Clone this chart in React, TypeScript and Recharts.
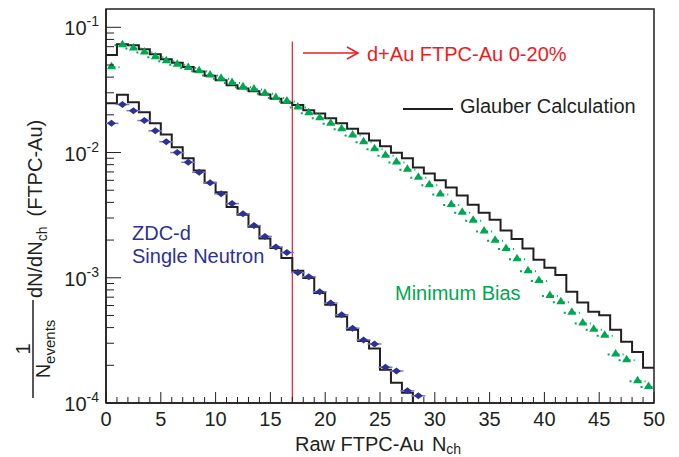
import React from "react";
import {
  ComposedChart,
  Customized,
  Line,
  ReferenceArea,
  ReferenceLine,
  Scatter,
  XAxis,
  YAxis,
} from "recharts";

const FONT = '"Liberation Sans", Arial, Helvetica, sans-serif';
const INK = "#231f20";
const BLUE = "#2e3192";
const GREEN = "#00a651";
const RED = "#ed1c24";

// Raw FTPC-Au Nch bins 0..49 (value per bin)
const mbGlauber = [
  0.06, 0.0731, 0.0718, 0.0667, 0.0608, 0.0555, 0.0522, 0.0481, 0.0443, 0.0411,
  0.0377, 0.0345, 0.0325, 0.0309, 0.0291, 0.0269, 0.025, 0.024, 0.0218, 0.0205,
  0.0188, 0.0171, 0.0155, 0.0142, 0.0125, 0.0112, 0.00995, 0.009, 0.00759, 0.00679,
  0.006, 0.00525, 0.00453, 0.00382, 0.0033, 0.00291, 0.00239, 0.00204, 0.00171, 0.00139,
  0.0012, 0.00105, 0.000773, 0.000634, 0.000535, 0.000503, 0.000384, 0.000308, 0.000256, 0.000191,
];
const mbData = [
  0.0488, 0.0731, 0.0689, 0.064, 0.0586, 0.0545, 0.0512, 0.0481, 0.0453, 0.042,
  0.0396, 0.0365, 0.0339, 0.0325, 0.03, 0.0277, 0.026, 0.0233, 0.021, 0.0191,
  0.0173, 0.0156, 0.0139, 0.0123, 0.0108, 0.0096, 0.00847, 0.00741, 0.0064, 0.00558,
  0.0047, 0.00389, 0.00337, 0.00291, 0.00239, 0.00201, 0.00173, 0.00143, 0.00115, 0.00096,
  0.00073, 0.00065, 0.000535, 0.000439, 0.000391, 0.00035, 0.000248, 0.000224, 0.000152, 0.000137,
];
// ZDC-d single neutron
const snGlauber = [
  0.0247, 0.029, 0.0252, 0.021, 0.0171, 0.0139, 0.011, 0.009, 0.0072, 0.00573,
  0.00481, 0.00368, 0.00318, 0.00255, 0.00206, 0.00173, 0.00144, 0.00114, 0.000995, 0.000755,
  0.000608, 0.00049, 0.000384, 0.000313, 0.000272, 0.000184, 0.000145, 0.000121,
];
const snData = [
  0.0171, 0.0242, 0.0216, 0.018, 0.0149, 0.0122, 0.01, 0.00836, 0.00695, 0.00573,
  0.00468, 0.00391, 0.00324, 0.00261, 0.00214, 0.00176, 0.00159, 0.0011, 0.00102, 0.000773,
  0.000628, 0.000506, 0.000396, 0.000319, 0.000296, 0.000193, 0.00018, 0.000125, 0.000114,
];

const X_MAX = 50;
const Y_MIN = 1e-4;
const Y_MAX = 0.14;
const CUT = 17;
const CUT_TOP = 0.077;

const xTicks = Array.from({ length: X_MAX + 1 }, (_, i) => i);
const decades = [-4, -3, -2];
const mantissas = [1, 2, 3, 4, 5, 6, 7, 8, 9];
const yTicks = [...decades.flatMap((d) => mantissas.map((m) => m * 10 ** d)), 0.1];

// histogram edges for a step line; tail is the value after the last bin
const steps = (vals: number[], tail: number) => [
  ...vals.map((y, i) => ({ x: i, y })),
  { x: vals.length, y: tail },
];
const centers = (vals: number[]) => vals.map((y, i) => ({ x: i + 0.5, y }));

const XTick = ({ x, y, payload }: any) => {
  const major = payload.value % 5 === 0;
  return (
    <g>
      <line x1={x} x2={x} y1={y} y2={y - (major ? 11 : 6)} stroke={INK} strokeWidth={1} />
      {major && (
        <text x={x} y={y + 23} textAnchor="middle" fontSize={20} fill={INK} fontFamily={FONT}>
          {payload.value}
        </text>
      )}
    </g>
  );
};

const YTick = ({ x, y, payload }: any) => {
  const lg = Math.log10(payload.value);
  const major = Math.abs(lg - Math.round(lg)) < 1e-6;
  return (
    <g>
      <line x1={x} x2={x + (major ? 15 : 8)} y1={y} y2={y} stroke={INK} strokeWidth={1} />
      {major && (
        <text x={x - 7} y={y + 8} textAnchor="end" fontSize={20} fill={INK} fontFamily={FONT}>
          10
          <tspan dy={-9} fontSize={14}>
            {Math.round(lg)}
          </tspan>
        </text>
      )}
    </g>
  );
};

const Triangle = ({ cx, cy }: any) => (
  <g>
    <line x1={cx - 8} x2={cx + 8} y1={cy + 1} y2={cy + 1} stroke={GREEN} strokeWidth={2} strokeDasharray="2 3" />
    <path d={`M${cx},${cy - 4.5}L${cx + 4.5},${cy + 3}L${cx - 4.5},${cy + 3}Z`} fill={GREEN} />
  </g>
);

const Diamond = ({ cx, cy }: any) => (
  <g>
    <line x1={cx - 7} x2={cx + 7} y1={cy} y2={cy} stroke="#7a7dbd" strokeWidth={1.5} />
    <path d={`M${cx},${cy - 3.5}L${cx + 4.5},${cy}L${cx},${cy + 3.5}L${cx - 4.5},${cy}Z`} fill={BLUE} />
  </g>
);

const Annotations = () => (
  <g fontFamily={FONT}>
    {/* y title */}
    <g transform="translate(42,298) rotate(-90)">
      <text x={0} y={0} fontSize={20} fill={INK}>
        dN/dN
        <tspan dy={5} fontSize={14}>ch</tspan>
        <tspan dy={-5} dx={10}>(FTPC-Au)</tspan>
      </text>
    </g>
    <g transform="translate(0,349) rotate(-90)">
      <text x={0} y={30} fontSize={20} fill={INK} textAnchor="middle">1</text>
      <line x1={-49} x2={49} y1={33} y2={33} stroke={INK} strokeWidth={1.5} />
      <text x={0} y={50} fontSize={20} fill={INK} textAnchor="middle">
        N<tspan dy={5} fontSize={15}>events</tspan>
      </text>
    </g>
    {/* x title */}
    <text x={295} y={451} fontSize={20} fill={INK}>
      Raw FTPC-Au
      <tspan dx={8}>N</tspan>
      <tspan dy={3} fontSize={14}>ch</tspan>
    </text>
    {/* annotations */}
    <line x1={303} x2={358} y1={53} y2={53} stroke={RED} strokeWidth={1.5} />
    <polyline points="347,47 358,53 347,59" fill="none" stroke={RED} strokeWidth={1.5} />
    <text x={367} y={61} fontSize={20} fill={RED}>d+Au FTPC-Au 0-20%</text>
    <line x1={403} x2={453} y1={109} y2={109} stroke={INK} strokeWidth={2} />
    <text x={460} y={113} fontSize={20} fill={INK}>Glauber Calculation</text>
    <text x={132} y={240} fontSize={20} fill={BLUE}>ZDC-d</text>
    <text x={132} y={263} fontSize={20} fill={BLUE}>Single Neutron</text>
    <text x={395} y={300} fontSize={20} fill={GREEN}>Minimum Bias</text>
  </g>
);

export default function App() {
  return (
    <div style={{ position: "absolute", left: 0, top: 0, width: 679, height: 457, background: "#fff" }}>
      <ComposedChart width={679} height={457} margin={{ top: 9, right: 25, bottom: 24, left: 46 }}>
        <XAxis
          type="number"
          dataKey="x"
          domain={[0, X_MAX]}
          ticks={xTicks}
          interval={0}
          tickSize={0}
          tickMargin={0}
          tickLine={false}
          tick={XTick}
          axisLine={{ stroke: INK, strokeWidth: 1.5 }}
          height={30}
          allowDataOverflow
        />
        <YAxis
          type="number"
          dataKey="y"
          scale="log"
          domain={[Y_MIN, Y_MAX]}
          ticks={yTicks}
          interval={0}
          tickSize={0}
          tickMargin={0}
          tickLine={false}
          tick={YTick}
          axisLine={{ stroke: INK, strokeWidth: 1.5 }}
          width={60}
          allowDataOverflow
        />
        <ReferenceArea x1={0} x2={X_MAX} y1={Y_MIN} y2={Y_MAX} fill="none" stroke={INK} strokeWidth={1.5} />
        <ReferenceLine
          segment={[
            { x: CUT, y: Y_MIN },
            { x: CUT, y: CUT_TOP },
          ]}
          stroke={RED}
          strokeWidth={1.2}
        />
        <Line
          data={steps(mbGlauber, mbGlauber[mbGlauber.length - 1])}
          dataKey="y"
          type="stepAfter"
          stroke={INK}
          strokeWidth={2}
          dot={false}
          isAnimationActive={false}
        />
        <Line
          data={steps(snGlauber, Y_MIN)}
          dataKey="y"
          type="stepAfter"
          stroke={INK}
          strokeWidth={2}
          dot={false}
          isAnimationActive={false}
        />
        <Scatter data={centers(mbData)} dataKey="y" shape={Triangle} isAnimationActive={false} />
        <Scatter data={centers(snData)} dataKey="y" shape={Diamond} isAnimationActive={false} />
        <Customized component={Annotations} />
      </ComposedChart>
    </div>
  );
}
